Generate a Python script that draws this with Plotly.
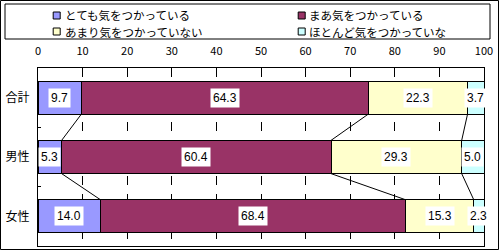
import plotly.graph_objects as go

categories = ["合計", "男性", "女性"]
series_names = ["とても気をつかっている", "まあ気をつかっている", "あまり気をつかっていない", "ほとんど気をつかっていな"]
series_colors = ["#9999FF", "#993366", "#FFFFCC", "#CCFFFF"]
s1 = [9.7, 5.3, 14.0]
s2 = [64.3, 60.4, 68.4]
s3 = [22.3, 29.3, 15.3]
s4 = [3.7, 5.0, 2.3]
series_values = [s1, s2, s3, s4]
x_ticks = list(range(0, 101, 10))

W, H = 500, 251
ML, MR, MT, MB = 38, 16, 68, 5
PW, PH = W - ML - MR, H - MT - MB


def px(x):
    return (x - ML) / PW


def py(y):
    return (H - MB - y) / PH


ypos = list(range(len(categories)))
BW = 0.56

fig = go.Figure()
for name, vals, col in zip(series_names, series_values, series_colors):
    fig.add_trace(go.Bar(
        y=ypos, x=vals, name=name, orientation="h", width=BW,
        marker=dict(color=col, line=dict(color="black", width=1)),
        showlegend=False, hoverinfo="skip",
    ))

# cumulative boundaries
cums = []
for i in range(len(categories)):
    c, row = 0, []
    for vals in series_values:
        c += vals[i]
        row.append(c)
    cums.append(row)

# series connector lines
lx, ly = [], []
for i in range(len(categories) - 1):
    for k in range(len(series_values) - 1):
        lx += [cums[i][k], cums[i + 1][k], None]
        ly += [i + BW / 2, i + 1 - BW / 2, None]
fig.add_trace(go.Scatter(x=lx, y=ly, mode="lines", line=dict(color="black", width=1),
                         showlegend=False, hoverinfo="skip"))

annotations = []
for i in range(len(categories)):
    start = 0
    for vals in series_values:
        v = vals[i]
        annotations.append(dict(
            x=start + v / 2, y=i, xref="x", yref="y", text=f"{v:.1f}", showarrow=False,
            bgcolor="white", borderpad=2,
            font=dict(family="Liberation Sans, Arial, sans-serif", size=12, color="black"),
        ))
        start += v

# custom legend
col_marker_x = [56.7, 301.7]
col_text_x = [63, 307]
row_y = [15.5, 31.5]
shapes = [
    dict(type="rect", xref="paper", yref="paper", x0=px(0.5), x1=px(498.5), y0=py(249.5), y1=py(0.5),
         line=dict(color="black", width=1), fillcolor="rgba(0,0,0,0)", layer="above"),
    dict(type="rect", xref="paper", yref="paper", x0=px(5), x1=px(490), y0=py(39), y1=py(4),
         line=dict(color="black", width=1), fillcolor="white"),
]
for si in range(len(series_names)):
    col = si % 2
    row = si // 2
    cx, cy = col_marker_x[col], row_y[row]
    shapes.append(dict(type="rect", xref="paper", yref="paper",
                       x0=px(cx - 3.5), x1=px(cx + 3.5), y0=py(cy + 3.5), y1=py(cy - 3.5),
                       line=dict(color="black", width=1), fillcolor=series_colors[si]))
    annotations.append(dict(x=px(col_text_x[col]), y=py(cy), xref="paper", yref="paper",
                            xanchor="left", yanchor="middle", showarrow=False, text=series_names[si],
                            font=dict(family="Noto Sans CJK JP", size=11.5, color="black")))

fig.update_layout(
    width=W, height=H, margin=dict(l=ML, r=MR, t=MT, b=MB, pad=0),
    barmode="stack", plot_bgcolor="white", paper_bgcolor="white",
    showlegend=False, shapes=shapes, annotations=annotations,
    font=dict(family="Noto Sans CJK JP", size=11, color="black"),
)
fig.update_xaxes(
    side="top", range=[0, 100], tickvals=x_ticks, ticktext=[str(t) for t in x_ticks],
    showgrid=True, gridcolor="black", gridwidth=1, griddash="dash",
    showline=True, linecolor="black", linewidth=1, mirror=True,
    ticks="outside", ticklen=8, tickcolor="rgba(0,0,0,0)", zeroline=False,
    tickfont=dict(family="Noto Sans CJK JP", size=11, color="black"),
)
fig.update_yaxes(
    range=[len(categories) - 0.5, -0.5], tickvals=ypos, ticktext=categories,
    showgrid=False, zeroline=False,
    showline=True, linecolor="black", linewidth=1, mirror=True,
    ticks="outside", ticklen=5, tickcolor="rgba(0,0,0,0)",
    tickfont=dict(family="Noto Sans CJK JP", size=12, color="black"),
    minor=dict(tickvals=[i + 0.5 for i in ypos[:-1]], ticks="inside", ticklen=3,
               tickcolor="black", showgrid=False),
)

fig.write_html("out.html")
